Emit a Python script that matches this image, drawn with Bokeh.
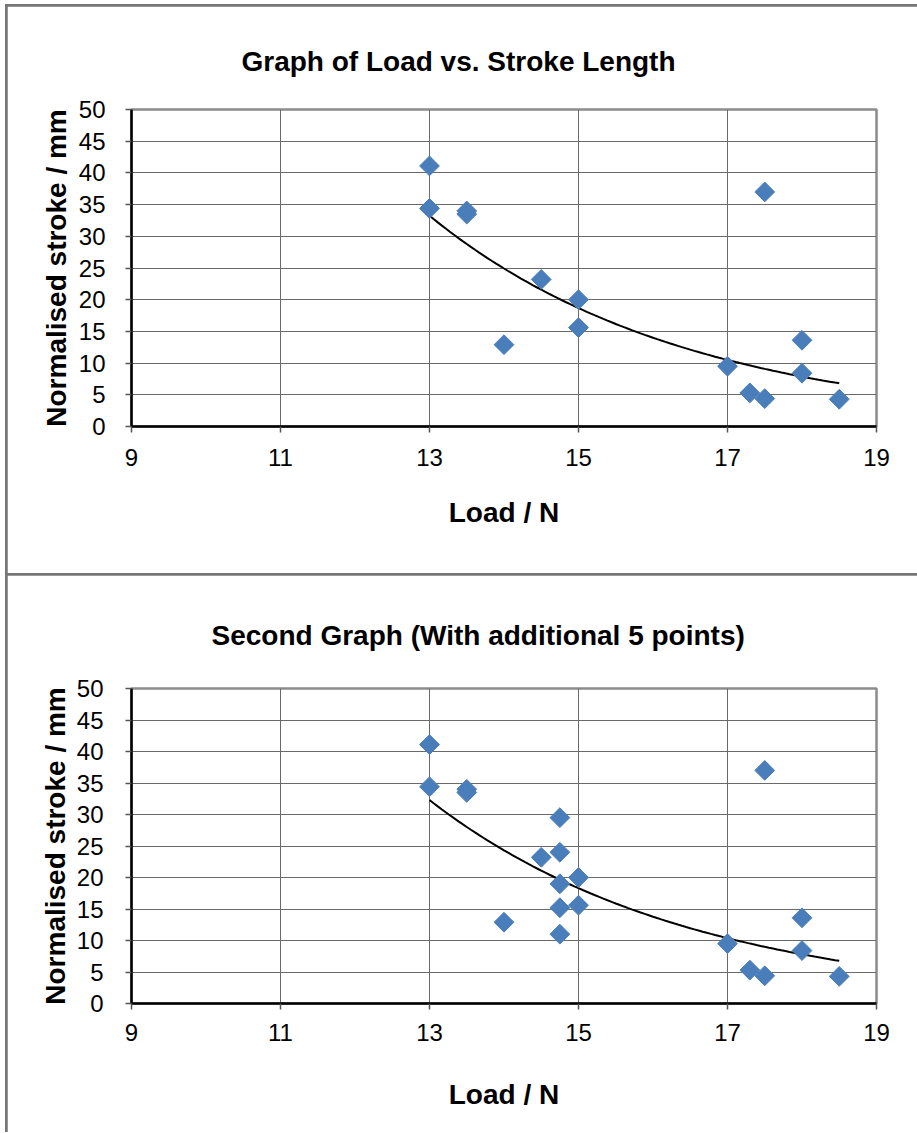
import numpy as np
from bokeh.plotting import figure
from bokeh.layouts import column
from bokeh.models import Range1d, FixedTicker, ColumnDataSource, Title
from bokeh.embed import file_html
from bokeh.resources import INLINE

# ---- data ----
load_1 = [13, 13, 13.5, 13.5, 14, 14.5, 15, 15, 17, 17.3, 17.5, 17.5, 18, 18, 18.5]
stroke_1 = [41.1, 34.4, 33.5, 34.0, 12.9, 23.2, 20.0, 15.6, 9.5, 5.3, 4.4, 37.0, 13.6, 8.4, 4.3]

extra_load = [14.75, 14.75, 14.75, 14.75, 14.75]
extra_stroke = [29.5, 24.0, 19.0, 15.2, 11.0]

load_2 = load_1 + extra_load
stroke_2 = stroke_1 + extra_stroke

x_ticks = [9, 11, 13, 15, 17, 19]
y_ticks = [0, 5, 10, 15, 20, 25, 30, 35, 40, 45, 50]

titles = ["Graph of Load vs. Stroke Length", "Second Graph (With additional 5 points)"]
x_label = "Load / N"
y_label = "Normalised stroke / mm"

FONT = "Liberation Sans"
BLUE = "#4A7EBB"
GRID = "#6a6a6a"


def make_chart(xs, ys, title, height, mb, title_standoff, title_offset, xstand, ystand):
    left, right, top, bottom = mb
    p = figure(width=910, height=height, output_backend="svg", toolbar_location=None,
               x_range=Range1d(9, 19), y_range=Range1d(0, 50),
               min_border_left=left, min_border_right=right,
               min_border_top=top, min_border_bottom=bottom)
    p.margin = (2, 0, 0, 2)

    p.background_fill_color = "white"
    p.border_fill_color = "white"
    p.outline_line_color = "#8c8c8c"
    p.outline_line_width = 2.5

    for ax in (p.xaxis, p.yaxis):
        ax.axis_line_color = "black"
        ax.axis_line_width = 2.5
        ax.major_tick_line_color = "#555555"
        ax.major_tick_line_width = 1.5
        ax.major_tick_out = 6
        ax.major_tick_in = 0
        ax.minor_tick_line_color = None
        ax.major_label_text_font = FONT
        ax.major_label_text_font_size = "24px"
        ax.major_label_text_color = "black"
        ax.axis_label_text_font = FONT
        ax.axis_label_text_font_size = "28px"
        ax.axis_label_text_font_style = "bold"
        ax.axis_label_text_color = "black"

    p.xaxis.ticker = FixedTicker(ticks=x_ticks)
    p.yaxis.ticker = FixedTicker(ticks=y_ticks)
    p.xaxis.axis_label = x_label
    p.yaxis.axis_label = y_label
    p.xaxis.major_label_standoff = xstand[0]
    p.xaxis.axis_label_standoff = xstand[1]
    p.yaxis.major_label_standoff = ystand[0]
    p.yaxis.axis_label_standoff = ystand[1]

    p.xgrid.ticker = FixedTicker(ticks=x_ticks)
    p.ygrid.ticker = FixedTicker(ticks=y_ticks)
    p.xgrid.grid_line_color = GRID
    p.ygrid.grid_line_color = GRID
    p.xgrid.grid_line_width = 1
    p.ygrid.grid_line_width = 1

    # exponential trendline (least squares on ln y), as in the spreadsheet
    xa = np.array(xs, dtype=float)
    ya = np.array(ys, dtype=float)
    b, ln_a = np.polyfit(xa, np.log(ya), 1)
    tx = np.linspace(xa.min(), xa.max(), 100)
    ty = np.exp(ln_a + b * tx)
    p.line(tx, ty, line_color="black", line_width=2)

    src = ColumnDataSource(dict(x=xs, y=ys))
    p.scatter("x", "y", source=src, marker="square", size=14, angle=np.pi / 4,
              fill_color=BLUE, line_color=BLUE)

    t = Title(text=title, align="left", offset=title_offset, standoff=title_standoff,
              vertical_align="top",
              text_font=FONT, text_font_size="28px", text_font_style="bold",
              text_color="black")
    p.add_layout(t, "above")
    return p


p1 = make_chart(load_1, stroke_1, titles[0], 567, (120, 41, 103, 147), 62, 110,
                (16, 28), (20, 4))
p2 = make_chart(load_2, stroke_2, titles[1], 557, (124, 35, 113, 129), 72, 80,
                (14, 35), (22, 3))

layout = column(p1, p2, spacing=0, margin=(4, 0, 0, 5),
                styles={"background-color": "#767676"})

open("out.html", "w").write(file_html(layout, INLINE))
